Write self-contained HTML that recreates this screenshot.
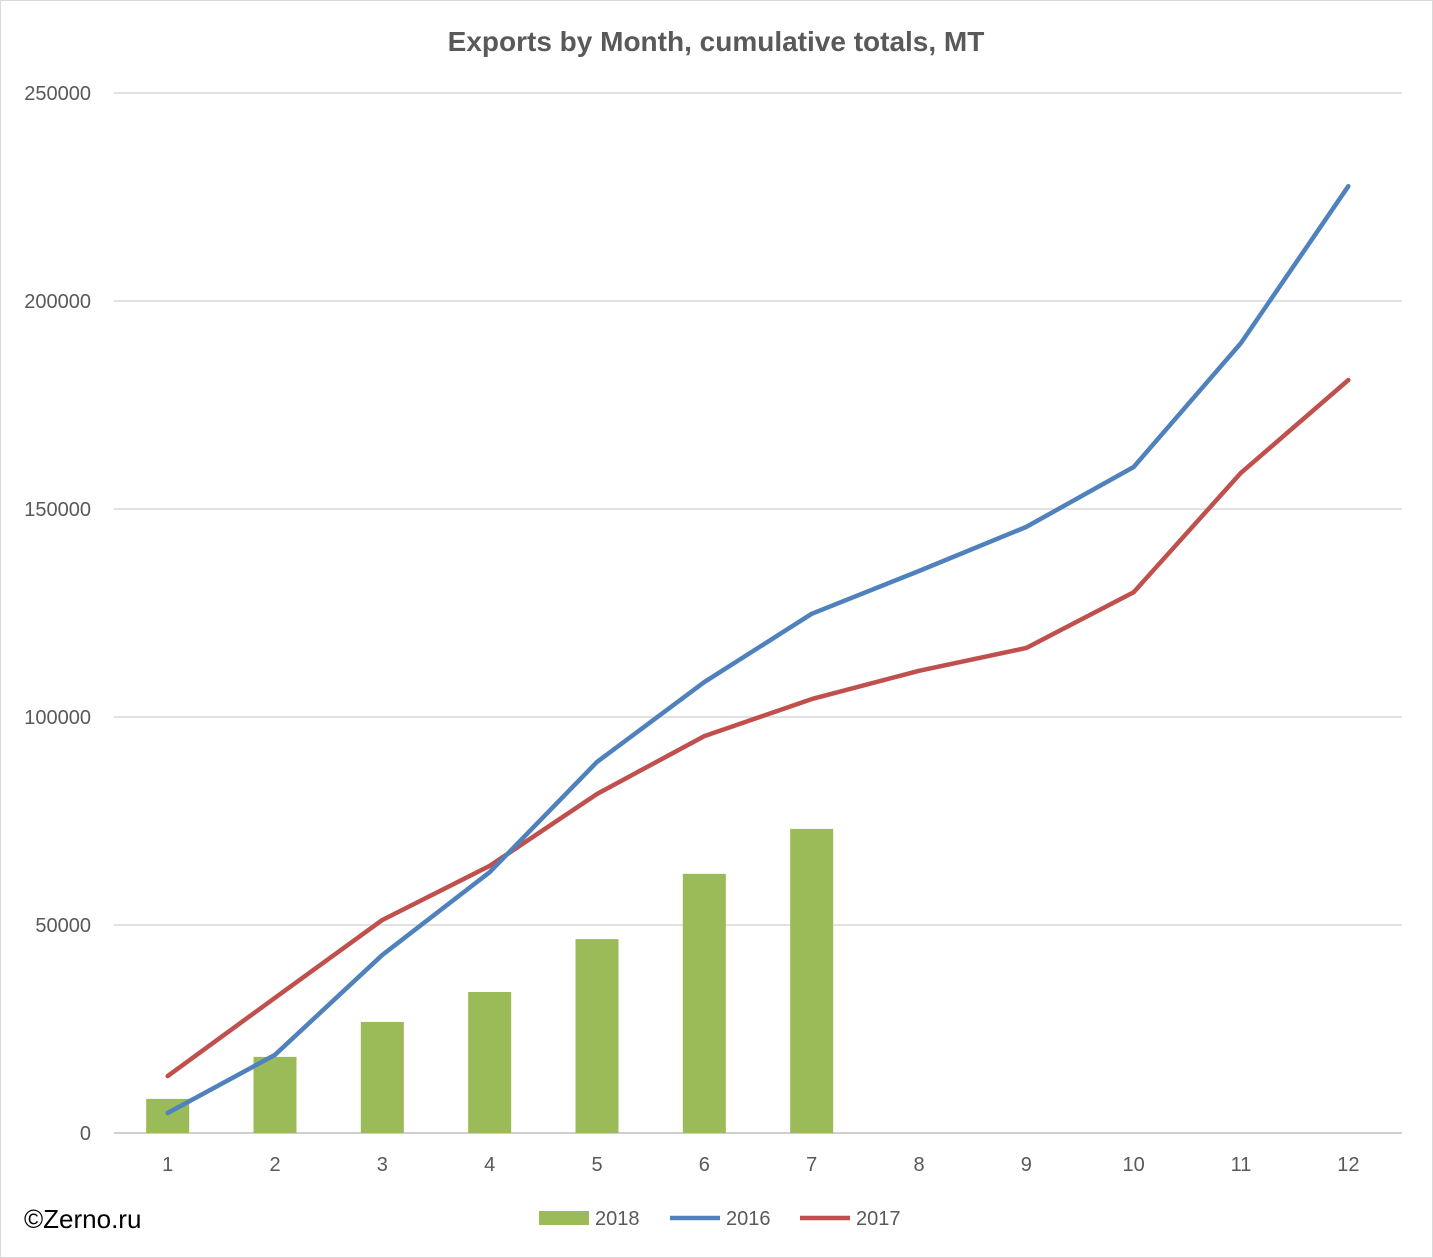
<!DOCTYPE html>
<html><head><meta charset="utf-8"><style>
html,body{margin:0;padding:0;background:#fff}
svg{display:block;font-family:"Liberation Sans",sans-serif}
</style></head><body>
<svg id="chart" width="1433" height="1258" viewBox="0 0 1433 1258">
<rect x="0.5" y="0.5" width="1432" height="1257" fill="#fff" stroke="#d9d9d9"/>
<text x="716" y="51" text-anchor="middle" font-size="28" font-weight="bold" fill="#595959">Exports by Month, cumulative totals, MT</text>
<g id="grid"></g><g id="bars"></g><g id="lines"></g><g id="axes"></g>
<g>
<rect x="539" y="1211" width="50" height="14" fill="#9bbb59"/>
<text x="595" y="1225" font-size="20" fill="#595959">2018</text>
<line x1="670" y1="1218" x2="720" y2="1218" stroke="#4f81bd" stroke-width="4.5"/>
<text x="726" y="1225" font-size="20" fill="#595959">2016</text>
<line x1="800" y1="1218" x2="850" y2="1218" stroke="#c0504d" stroke-width="4.5"/>
<text x="856" y="1225" font-size="20" fill="#595959">2017</text>
</g>
<text x="24" y="1228" font-size="26" fill="#000">©Zerno.ru</text>
</svg>
<script>
const categories=[1,2,3,4,5,6,7,8,9,10,11,12];
const series2018=[8200,18300,26700,33900,46600,62300,73100];
const series2016=[4800,18800,42800,62700,89200,108400,124800,135100,145700,160100,189900,227600];
const series2017=[13700,32500,51200,64200,81500,95400,104300,111100,116600,130000,158700,181000];
const yTicks=[0,50000,100000,150000,200000,250000];
const NS="http://www.w3.org/2000/svg";
const plotL=114,plotR=1402,y0=1133,yTop=93,yMax=250000;
const step=(plotR-plotL)/categories.length;
function xPos(i){return plotL+step*(i+0.5);}
function yPos(v){return y0-(v/yMax)*(y0-yTop);}
function mk(tag,attrs,parent){const e=document.createElementNS(NS,tag);for(const k in attrs)e.setAttribute(k,attrs[k]);parent.appendChild(e);return e;}
const grid=document.getElementById('grid'),axes=document.getElementById('axes'),bars=document.getElementById('bars'),lines=document.getElementById('lines');
yTicks.forEach(t=>{
 const y=yPos(t);
 const l=mk('line',{x1:plotL,x2:plotR,y1:y,y2:y,stroke:t===0?'#bfbfbf':'#d9d9d9','stroke-width':1.5},grid);
 
 
 const tx=mk('text',{x:91,y:y+7,'text-anchor':'end','font-size':20,fill:'#595959'},axes);
 tx.textContent=t;
 
 
});
categories.forEach((c,i)=>{
 const tx=mk('text',{x:xPos(i),y:1171,'text-anchor':'middle','font-size':20,fill:'#595959'},axes);
 tx.textContent=c;
 
 
});
series2018.forEach((v,i)=>{
 const b=mk('rect',{x:xPos(i)-21.5,y:yPos(v),width:43,height:y0-yPos(v),fill:'#9bbb59'},bars);
 
 
});
function line(data,color,name){
 const p=mk('polyline',{points:data.map((v,i)=>xPos(i)+','+yPos(v)).join(' '),fill:'none',stroke:color,'stroke-width':4.5,'stroke-linejoin':'round','stroke-linecap':'round'},lines);
 
 
}
line(series2017,'#c0504d','line-2017');
line(series2016,'#4f81bd','line-2016');
</script>
</body></html>
